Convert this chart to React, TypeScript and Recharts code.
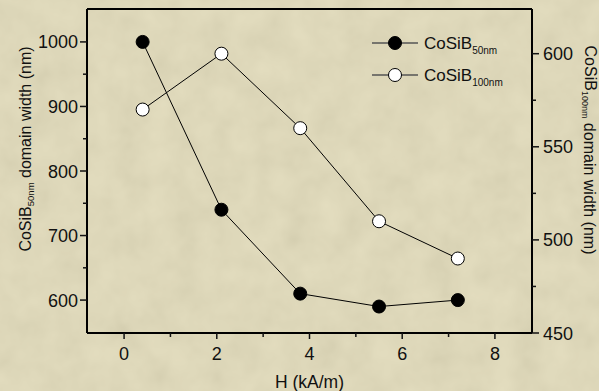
import { Legend, Line, LineChart, XAxis, YAxis } from "recharts";

const hField = [0.4, 2.1, 3.8, 5.5, 7.2];
const width50nm = [1000, 740, 610, 590, 600];
const width100nm = [570, 600, 560, 510, 490];

const xTicks = [0, 1, 2, 3, 4, 5, 6, 7, 8];
const leftTicks = [600, 650, 700, 750, 800, 850, 900, 950, 1000];
const rightTicks = [450, 475, 500, 525, 550, 575, 600];

const data = hField.map((h, i) => ({ h, a: width50nm[i], b: width100nm[i] }));

const font = "'Liberation Sans', Arial, sans-serif";
const ink = "#111";

function BottomTick({ x, y, payload }: any) {
  const major = payload.value % 2 === 0;
  return (
    <g>
      <line x1={x} x2={x} y1={y} y2={y + (major ? 6 : 4)} stroke={ink} strokeWidth={1.5} />
      {major && (
        <text x={x} y={y + 27} textAnchor="middle" fontSize={18} fill={ink} fontFamily={font}>
          {payload.value}
        </text>
      )}
    </g>
  );
}

function LeftTick({ x, y, payload }: any) {
  const major = payload.value % 100 === 0;
  return (
    <g>
      <line x1={x} x2={x - (major ? 7 : 4)} y1={y} y2={y} stroke={ink} strokeWidth={1.5} />
      {major && (
        <text x={x - 9} y={y + 6.5} textAnchor="end" fontSize={18} fill={ink} fontFamily={font}>
          {payload.value}
        </text>
      )}
    </g>
  );
}

function RightTick({ x, y, payload }: any) {
  const major = payload.value % 50 === 0;
  return (
    <g>
      <line x1={x} x2={x + (major ? 7 : 4)} y1={y} y2={y} stroke={ink} strokeWidth={1.5} />
      {major && (
        <text x={x + 11} y={y + 6.5} textAnchor="start" fontSize={18} fill={ink} fontFamily={font}>
          {payload.value}
        </text>
      )}
    </g>
  );
}

function LeftLabel() {
  const cx = 25;
  const cy = 149;
  return (
    <text
      x={cx}
      y={cy}
      transform={`rotate(-90, ${cx}, ${cy})`}
      textAnchor="middle"
      dominantBaseline="central"
      fontSize={16}
      fill={ink}
      fontFamily={font}
    >
      CoSiB
      <tspan fontSize={9.5} dy={5}>50nm</tspan>
      <tspan dy={-5}> domain width (nm)</tspan>
    </text>
  );
}

function RightLabel() {
  const cx = 590;
  const cy = 150;
  return (
    <text
      x={cx}
      y={cy}
      transform={`rotate(90, ${cx}, ${cy})`}
      textAnchor="middle"
      dominantBaseline="central"
      fontSize={16}
      fill={ink}
      fontFamily={font}
    >
      CoSiB
      <tspan fontSize={9} dy={5}>100nm</tspan>
      <tspan dy={-5}> domain width (nm)</tspan>
    </text>
  );
}

function BottomLabel({ viewBox }: any) {
  const cx = viewBox.x + viewBox.width / 2;
  return (
    <text x={cx} y={388} textAnchor="middle" fontSize={17.5} fill={ink} fontFamily={font}>
      H (kA/m)
    </text>
  );
}

function LegendBox() {
  const rows = [
    { name: "CoSiB", sub: "50nm", fill: "#000" },
    { name: "CoSiB", sub: "100nm", fill: "#fff" },
  ];
  return (
    <svg width={160} height={60}>
      {rows.map((r, i) => {
        const cy = 13 + i * 32;
        return (
          <g key={r.sub}>
            <line x1={0} x2={46} y1={cy} y2={cy} stroke="#555" strokeWidth={1.5} />
            <circle cx={23} cy={cy} r={6.5} fill={r.fill} stroke="#000" strokeWidth={1} />
            <text x={52} y={cy + 6} fontSize={17} fill={ink} fontFamily={font}>
              {r.name}
              <tspan fontSize={10} dy={5}>{r.sub}</tspan>
            </text>
          </g>
        );
      })}
    </svg>
  );
}

function Paper() {
  return (
    <svg width={599} height={391} style={{ position: "absolute", left: 0, top: 0 }}>
      <filter id="grain" x="0" y="0" width="100%" height="100%">
        <feTurbulence type="fractalNoise" baseFrequency="0.035" numOctaves={3} seed={7} />
        <feColorMatrix type="saturate" values="0" />
        <feComponentTransfer>
          <feFuncA type="linear" slope="0" intercept="0.12" />
        </feComponentTransfer>
      </filter>
      <rect width={599} height={391} fill="#e2dbb9" />
      <rect width={599} height={391} filter="url(#grain)" />
    </svg>
  );
}

export default function App() {
  return (
    <div style={{ position: "absolute", left: 0, top: 0, width: 599, height: 391 }}>
      <Paper />
      <div style={{ position: "absolute", left: 0, top: 0 }}>
        <LineChart width={599} height={391} data={data} margin={{ top: 8, right: 0, bottom: 0, left: 0 }}>
          <XAxis
            dataKey="h"
            type="number"
            domain={[-0.8, 8.8]}
            ticks={xTicks}
            allowDataOverflow
            height={58}
            tickSize={0}
            tickMargin={0}
            tick={<BottomTick />}
            axisLine={{ stroke: "#000", strokeWidth: 2 }}
            label={<BottomLabel />}
          />
          <XAxis
            xAxisId="top"
            dataKey="h"
            type="number"
            orientation="top"
            domain={[-0.8, 8.8]}
            allowDataOverflow
            height={1}
            tick={false}
            tickLine={false}
            axisLine={{ stroke: "#000", strokeWidth: 2 }}
          />
          <YAxis
            yAxisId="left"
            type="number"
            domain={[549, 1051]}
            ticks={leftTicks}
            allowDataOverflow
            width={87}
            tickSize={0}
            tickMargin={0}
            tick={<LeftTick />}
            axisLine={{ stroke: "#000", strokeWidth: 2 }}
            label={<LeftLabel />}
          />
          <YAxis
            yAxisId="right"
            orientation="right"
            type="number"
            domain={[450, 624]}
            ticks={rightTicks}
            allowDataOverflow
            width={67}
            tickSize={0}
            tickMargin={0}
            tick={<RightTick />}
            axisLine={{ stroke: "#000", strokeWidth: 2 }}
            label={<RightLabel />}
          />
          <Legend
            verticalAlign="middle"
            align="center"
            layout="horizontal"
            content={<LegendBox />}
            wrapperStyle={{ position: "absolute", top: 30, left: 372, width: 160, height: 60 }}
          />
          <Line
            yAxisId="left"
            dataKey="a"
            stroke="#000"
            strokeWidth={1}
            dot={{ r: 6.5, fill: "#000", stroke: "#000", strokeWidth: 1 }}
            isAnimationActive={false}
          />
          <Line
            yAxisId="right"
            dataKey="b"
            stroke="#000"
            strokeWidth={1}
            dot={{ r: 6.5, fill: "#fff", stroke: "#000", strokeWidth: 1 }}
            isAnimationActive={false}
          />
        </LineChart>
      </div>
    </div>
  );
}
